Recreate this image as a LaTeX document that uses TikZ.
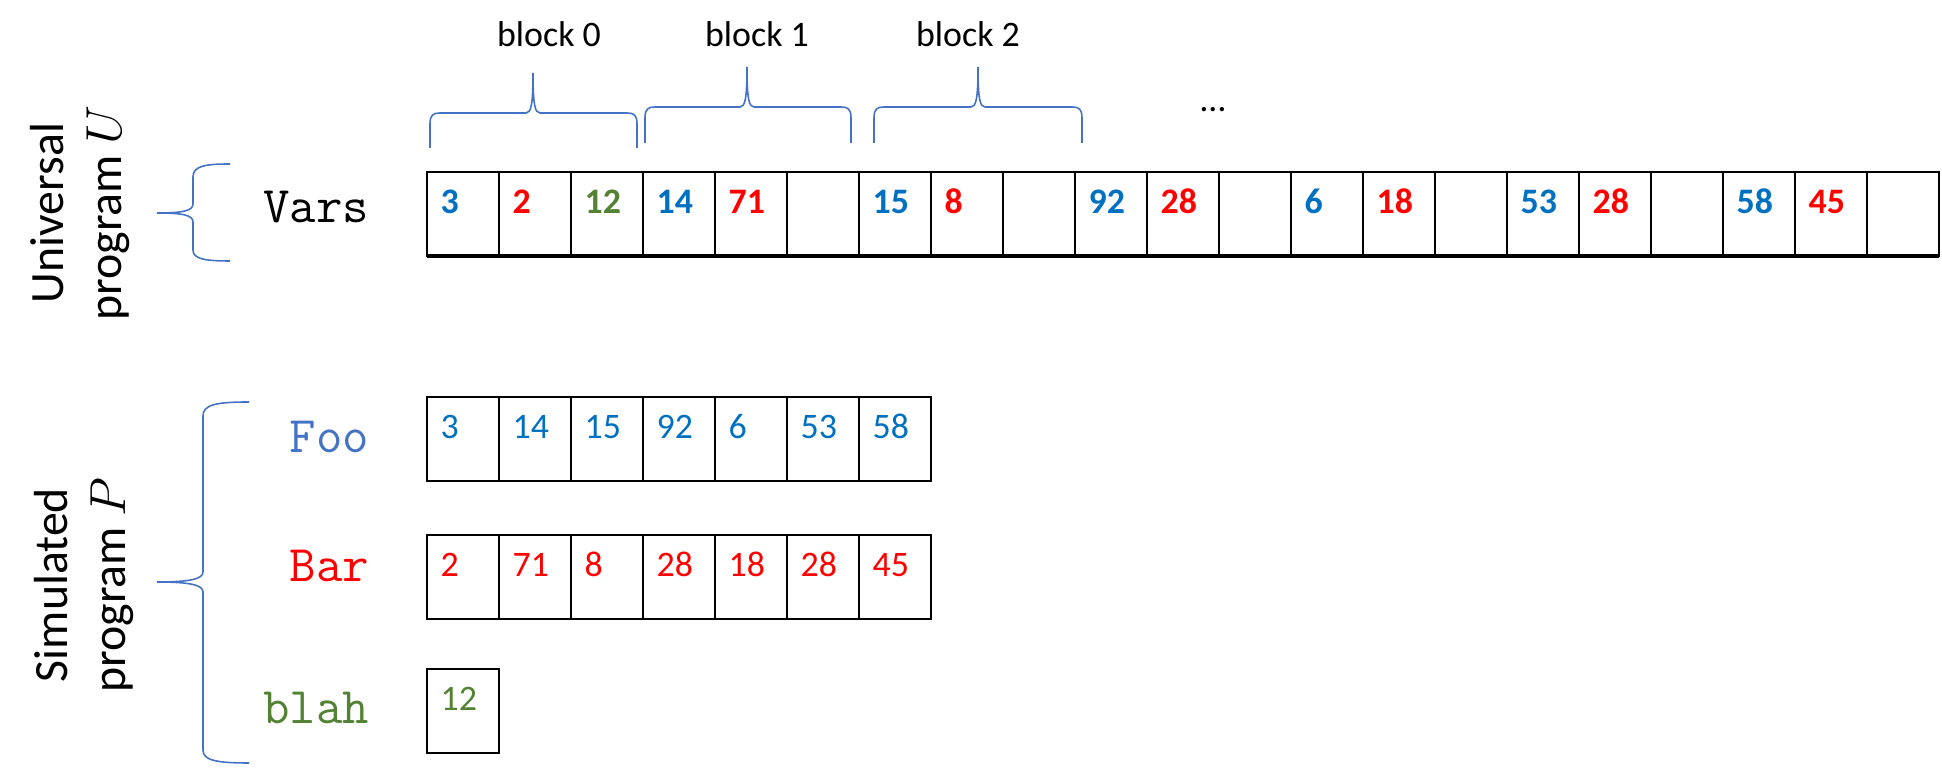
\documentclass[tikz,border=0pt]{standalone}
\usepackage{fontspec}
\setmainfont{Carlito}
\usetikzlibrary{calc}

\definecolor{cblue}{HTML}{0070C0}
\definecolor{cred}{HTML}{FF0000}
\definecolor{cgreen}{HTML}{548235}
\definecolor{cbrace}{HTML}{4472C4}

\newcommand\numsize{\fontsize{10.2pt}{12.3pt}\selectfont}
\newcommand\labsize{\fontsize{13.6pt}{16.4pt}\selectfont}
\newcommand\codesize{\fontsize{14.6pt}{17pt}\selectfont}

\tikzset{
    cell/.style={line width=0.6pt},
    brc/.style={cbrace, line width=0.45pt},
    vnum/.style={anchor=base west, inner sep=0pt, font=\numsize\bfseries},
    pnum/.style={anchor=base west, inner sep=0pt, font=\numsize},
    varname/.style={anchor=base east, inner sep=0pt, font=\codesize\ttfamily},
    side/.style={rotate=90, align=center, inner sep=0pt, font=\labsize},
}

\begin{document}
\begin{tikzpicture}[x=0.01cm, y=-0.01cm]
    \useasboundingbox (0,0) rectangle (1942,771);

    % パラメータの定義
    \pgfmathsetmacro{\W}{72}
    \pgfmathsetmacro{\H}{84}

    % 各行の左上の座標
    \coordinate (V) at (427,172);
    \coordinate (F) at (427,397);
    \coordinate (B) at (427,535);
    \coordinate (L) at (427,669);

    % 左側のラベル
    \node[side] (univ) at (80,213) {Universal\\program $U$};
    \node[side] (simu) at (84,585) {Simulated\\program $P$};
    \node[varname] (vars) at (370,223) {Vars};
    \node[varname, cbrace] (foo) at (370,453) {Foo};
    \node[varname, cred] (bar) at (370,582) {Bar};
    \node[varname, cgreen] (blah) at (370,724) {blah};

    % 括弧
    \draw[brc] (230,164) .. controls (205,164) and (193,166) .. (193,177) -- (193,204)
        .. controls (193,211) and (182,213) .. (157,213)
        .. controls (182,213) and (193,215) .. (193,222) -- (193,250)
        .. controls (193,259) and (205,261) .. (230,261);
    \draw[brc] (249,402) .. controls (215,402) and (203,405) .. (203,416) -- (203,572)
        .. controls (203,579) and (190,582) .. (157,582)
        .. controls (190,582) and (203,585) .. (203,592) -- (203,750)
        .. controls (203,760) and (215,763) .. (249,763);
    \draw[brc] (430,148) -- (430,124) .. controls (430,115) and (433,113) .. (440,113) -- (526,113)
        .. controls (531,113) and (533,105) .. (533,73)
        .. controls (533,105) and (535,113) .. (540,113) -- (627,113)
        .. controls (634,113) and (637,115) .. (637,124) -- (637,148);
    \draw[brc] (645,143) -- (645,118) .. controls (645,109) and (648,107) .. (655,107) -- (740,107)
        .. controls (745,107) and (747,99) .. (747,67)
        .. controls (747,99) and (749,107) .. (754,107) -- (841,107)
        .. controls (848,107) and (851,109) .. (851,118) -- (851,143);
    \draw[brc] (874,143) -- (874,118) .. controls (874,109) and (877,107) .. (884,107) -- (971,107)
        .. controls (976,107) and (978,99) .. (978,67)
        .. controls (978,99) and (980,107) .. (985,107) -- (1072,107)
        .. controls (1079,107) and (1082,109) .. (1082,118) -- (1082,143);

    % ブロックのラベル
    \node[anchor=base, inner sep=0pt, font=\numsize] (blk0) at (549,47) {block 0};
    \node[anchor=base, inner sep=0pt, font=\numsize] (blk1) at (757,47) {block 1};
    \node[anchor=base, inner sep=0pt, font=\numsize] (blk2) at (968,47) {block 2};
    \node[anchor=base, inner sep=0pt, font=\numsize] (dots) at (1213,112) {…};

    % セルの描画
    \draw[cell] (V) rectangle ++(21*\W,\H);
    \foreach \i in {1,...,20} \draw[cell] ($(V)+(\i*\W,0)$) -- ++(0,\H);
    \draw[line width=1.3pt] ($(V)+(0,\H)$) -- ++(21*\W,0);
    \draw[cell] (F) rectangle ++(7*\W,\H);
    \draw[cell] (B) rectangle ++(7*\W,\H);
    \foreach \i in {1,...,6} \draw[cell] ($(F)+(\i*\W,0)$) -- ++(0,\H) ($(B)+(\i*\W,0)$) -- ++(0,\H);
    \draw[cell] (L) rectangle ++(\W,\H);

    % Vars の値
    \node[vnum, cblue]  (v1)  at ($(V)+(0*\W+13,42)$) {3};
    \node[vnum, cred]   (v2)  at ($(V)+(1*\W+13,42)$) {2};
    \node[vnum, cgreen] (v3)  at ($(V)+(2*\W+13,42)$) {12};
    \node[vnum, cblue]  (v4)  at ($(V)+(3*\W+13,42)$) {14};
    \node[vnum, cred]   (v5)  at ($(V)+(4*\W+13,42)$) {71};
    \node[vnum, cblue]  (v7)  at ($(V)+(6*\W+13,42)$) {15};
    \node[vnum, cred]   (v8)  at ($(V)+(7*\W+13,42)$) {8};
    \node[vnum, cblue]  (v10) at ($(V)+(9*\W+13,42)$) {92};
    \node[vnum, cred]   (v11) at ($(V)+(10*\W+13,42)$) {28};
    \node[vnum, cblue]  (v13) at ($(V)+(12*\W+13,42)$) {6};
    \node[vnum, cred]   (v14) at ($(V)+(13*\W+13,42)$) {18};
    \node[vnum, cblue]  (v16) at ($(V)+(15*\W+13,42)$) {53};
    \node[vnum, cred]   (v17) at ($(V)+(16*\W+13,42)$) {28};
    \node[vnum, cblue]  (v19) at ($(V)+(18*\W+13,42)$) {58};
    \node[vnum, cred]   (v20) at ($(V)+(19*\W+13,42)$) {45};

    % Foo, Bar, blah の値
    \node[pnum, cblue] (f1) at ($(F)+(0*\W+13,42)$) {3};
    \node[pnum, cblue] (f2) at ($(F)+(1*\W+13,42)$) {14};
    \node[pnum, cblue] (f3) at ($(F)+(2*\W+13,42)$) {15};
    \node[pnum, cblue] (f4) at ($(F)+(3*\W+13,42)$) {92};
    \node[pnum, cblue] (f5) at ($(F)+(4*\W+13,42)$) {6};
    \node[pnum, cblue] (f6) at ($(F)+(5*\W+13,42)$) {53};
    \node[pnum, cblue] (f7) at ($(F)+(6*\W+13,42)$) {58};
    \node[pnum, cred] (b1) at ($(B)+(0*\W+13,42)$) {2};
    \node[pnum, cred] (b2) at ($(B)+(1*\W+13,42)$) {71};
    \node[pnum, cred] (b3) at ($(B)+(2*\W+13,42)$) {8};
    \node[pnum, cred] (b4) at ($(B)+(3*\W+13,42)$) {28};
    \node[pnum, cred] (b5) at ($(B)+(4*\W+13,42)$) {18};
    \node[pnum, cred] (b6) at ($(B)+(5*\W+13,42)$) {28};
    \node[pnum, cred] (b7) at ($(B)+(6*\W+13,42)$) {45};
    \node[pnum, cgreen] (h1) at ($(L)+(0*\W+13,42)$) {12};

\end{tikzpicture}
\end{document}
